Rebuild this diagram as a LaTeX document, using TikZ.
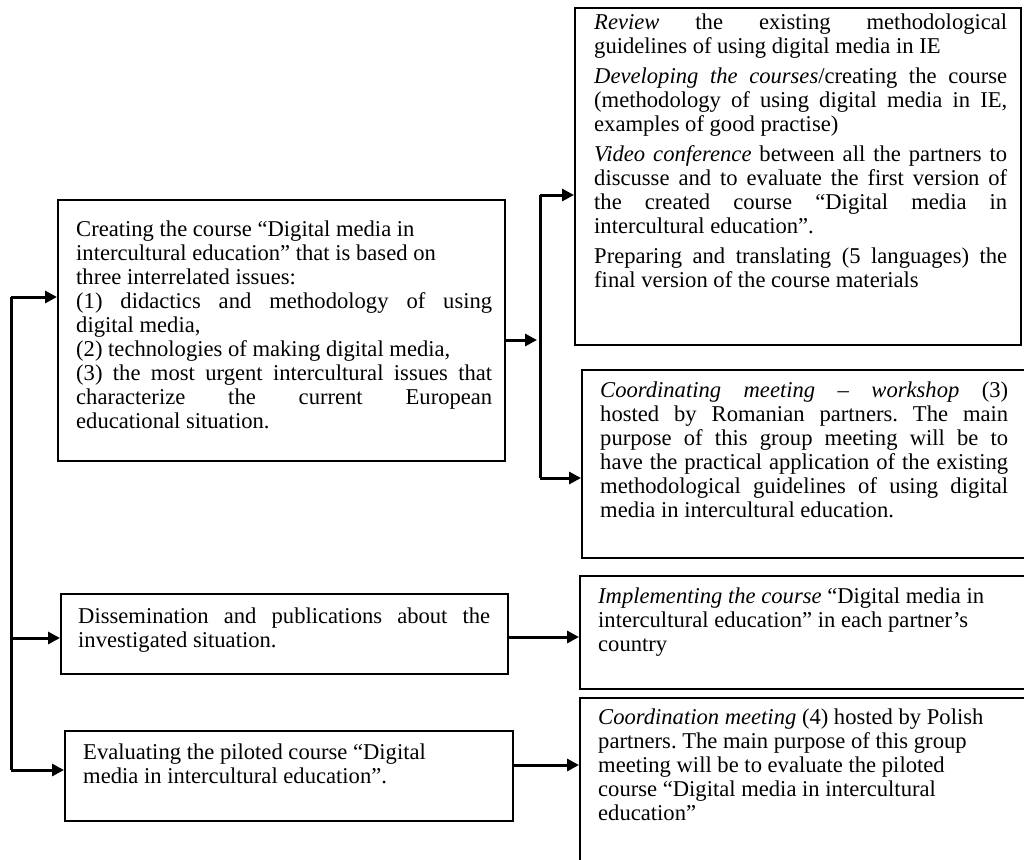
\documentclass[tikz,border=0pt]{standalone}
\usepackage{fontspec}
\setmainfont{Liberation Serif}
\usetikzlibrary{arrows.meta}
\setlength{\parindent}{0pt}
\frenchspacing
\newcommand{\mystrut}{\rule{0pt}{18pt}}
\tikzset{
  boxst/.style={draw=black, line width=2.4pt, inner sep=0pt, anchor=north west},
  txt/.style={inner sep=0pt, anchor=north west, align=justify,
    font={\fontsize{22.6}{24}\selectfont\frenchspacing}},
  conn/.style={line width=3pt, black},
  arr/.style={line width=3pt, black, -{Triangle[length=12pt,width=12pt]}}
}
\begin{document}
\begin{tikzpicture}[x=1pt,y=-1pt]
\useasboundingbox (0,0) rectangle (1024,859);
\clip (0,0) rectangle (1024,859);
\fill[white] (0,0) rectangle (1024,859);

% boxes
\node[boxst, minimum width=447pt, minimum height=261pt] (A) at (57,199) {};
\node[boxst, minimum width=447pt, minimum height=80pt] (B) at (60,593) {};
\node[boxst, minimum width=448pt, minimum height=90pt] (C) at (64,730) {};
\node[boxst, minimum width=446pt, minimum height=337pt] (D) at (574,7) {};
\node[boxst, minimum width=460pt, minimum height=188pt] (E) at (581,369) {};
\node[boxst, minimum width=460pt, minimum height=113pt] (G) at (579,575) {};
\node[boxst, minimum width=460pt, minimum height=190pt] (H) at (579,697) {};

% texts
\node[txt, text width=416pt] (At) at (76,218) {\mystrut Creating the course “Digital media in\\
intercultural education” that is based on\\
three interrelated issues:\\
(1) didactics and methodology of using\linebreak
digital media,\\
(2) technologies of making digital media,\\
(3) the most urgent intercultural issues that\linebreak
characterize the current European\linebreak
educational situation.};

\node[txt, text width=412pt] (Bt) at (78,605) {\mystrut Dissemination and publications about the\linebreak
investigated situation.};

\node[txt, text width=430pt] (Ct) at (83,741) {\mystrut Evaluating the piloted course “Digital\\
media in intercultural education”.};

\node[txt, text width=413pt] (Dt) at (594,11) {\mystrut\textit{Review} the existing methodological\linebreak
guidelines of using digital media in IE\\[6pt]
\textit{Developing the courses}/creating the course\linebreak
(methodology of using digital media in IE,\linebreak
examples of good practise)\\[6pt]
\textit{Video conference} between all the partners to\linebreak
discusse and to evaluate the first version of\linebreak
the created course “Digital media in\linebreak
intercultural education”.\\[6pt]
Preparing and translating (5 languages) the\linebreak
final version of the course materials};

\node[txt, text width=408pt] (Et) at (600,379) {\mystrut\textit{Coordinating meeting – workshop} (3)\linebreak
hosted by Romanian partners. The main\linebreak
purpose of this group meeting will be to\linebreak
have the practical application of the existing\linebreak
methodological guidelines of using digital\linebreak
media in intercultural education.};

\node[txt, text width=430pt] (Gt) at (598,585) {\mystrut\textit{Implementing the course} “Digital media in\\
intercultural education” in each partner’s\\
country};

\node[txt, text width=430pt] (Ht) at (598,706) {\mystrut\textit{Coordination meeting} (4) hosted by Polish\\
partners. The main purpose of this group\\
meeting will be to evaluate the piloted\\
course “Digital media in intercultural\\
education”};

% connectors
\coordinate (lt) at (11,297);
\coordinate (lm) at (11,638);
\coordinate (lb) at (11,770);
\draw[conn] (lt) -- (lb);
\draw[arr] (lt) -- (lt -| A.west);
\draw[arr] (lm) -- (lm -| B.west);
\draw[arr] (lb) -- (lb -| C.west);

\coordinate (rt) at (540,195);
\coordinate (rm) at (537,340);
\coordinate (rb) at (540,478);
\draw[conn] (rt) -- (rb);
\draw[arr] (A.east |- rm) -- (rm);
\draw[arr] (rt) -- (rt -| D.west);
\draw[arr] (rb) -- (rb -| E.west);

\coordinate (bg) at (0,637);
\coordinate (ch) at (0,765);
\draw[arr] (B.east |- bg) -- (G.west |- bg);
\draw[arr] (C.east |- ch) -- (H.west |- ch);
\end{tikzpicture}
\end{document}
